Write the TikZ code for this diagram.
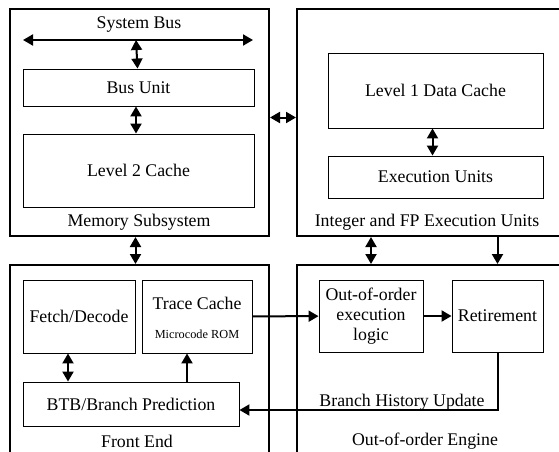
\documentclass[tikz,border=0pt]{standalone}
\usepackage{fontspec}
\setmainfont{Liberation Serif}
\usetikzlibrary{arrows.meta,positioning,calc}
\tikzset{
  outer/.style={draw, line width=2pt, inner sep=0pt},
  inner/.style={draw, line width=0.9pt, inner sep=0pt, font=\fontsize{17.8}{20}\selectfont, align=center},
  lbl/.style={font=\fontsize{17.8}{20}\selectfont, inner sep=1pt},
  flow/.style={line width=2pt, -{Triangle[length=10pt,width=11pt]}},
  both/.style={line width=2pt, {Triangle[length=10pt,width=11pt]}-{Triangle[length=10pt,width=11pt]}}
}
\begin{document}
\begin{tikzpicture}[x=1pt,y=-1pt]
              \useasboundingbox (0,0) rectangle (559,452);
              \clip (0,0) rectangle (559,452);
              \node[outer, minimum width=259pt, minimum height=227pt] at (139.5,122.5) (mem) {};
              \node[outer, minimum width=290pt, minimum height=227pt] at (442,122.5) (intfp) {};
              \node[outer, minimum width=259pt, minimum height=220pt] at (139.5,375) (front) {};
              \node[outer, minimum width=290pt, minimum height=220pt] at (442,375) (ooo) {};

              \node[lbl] at (139,25) (sysbus) {System Bus};
              \coordinate (busl) at (23,40);
              \coordinate (busr) at (253,40);
              \coordinate (busm) at (136,40);
              \node[inner, minimum width=231pt, minimum height=37pt] at (138.5,87.5) (bus) {Bus Unit};
              \node[inner, minimum width=231pt, minimum height=73pt] at (138.5,170.5) (ltwo) {Level 2 Cache};
              \node[lbl] at (139,222) (memlbl) {Memory Subsystem};

              \node[inner, minimum width=215pt, minimum height=75pt] at (435.5,90.5) (lone) {Level 1 Data Cache};
              \node[inner, minimum width=215pt, minimum height=42pt] at (435.5,177) (exu) {Execution Units};
              \node[lbl] at (427,222) (intlbl) {Integer and FP Execution Units};

              \node[inner, minimum width=112pt, minimum height=73pt] at (79,316.5) (fetch) {Fetch/Decode};
              \node[inner, minimum width=110pt, minimum height=73pt] at (197,316.5) (trace) {};
              \node[lbl] at (197,303) (tracetxt) {Trace Cache};
              \node[font=\fontsize{12.3}{14}\selectfont, inner sep=1pt] at (197,334) (ucode) {Microcode ROM};
              \node[inner, minimum width=216pt, minimum height=44pt] at (131,404) (btb) {BTB/Branch Prediction};
              \node[lbl] at (137,441) (frontlbl) {Front End};

              \node[inner, minimum width=104pt, minimum height=72pt] at (371,316) (exec) {Out-of-order\\execution\\logic};
              \node[inner, minimum width=91pt, minimum height=72pt] at (497.5,316) (retire) {Retirement};
              \node[lbl, anchor=south] at (402,412) (bhu) {Branch History Update};
              \node[lbl] at (425,441) (ooolbl) {Out-of-order Engine};

              \draw[both] (busl) -- (busr);
              \draw[both] (busm) -- (bus);
              \draw[both] ([xshift=-2.5pt]bus.south) -- ([xshift=-2.5pt]ltwo.north);
              \draw[both] ([yshift=5pt]mem.east) -- ([yshift=5pt]intfp.west);
              \draw[both] ([xshift=-3pt]lone.south) -- ([xshift=-3pt]exu.north);
              \draw[both] ([xshift=-4pt]mem.south) -- ([xshift=-4pt]front.north);
              \draw[both] (exec |- intfp.south) -- (exec |- ooo.north);
              \draw[flow] (retire |- intfp.south) -- (retire |- ooo.north);
              \draw[both] ([xshift=-11pt]fetch.south) -- ([xshift=-11pt]fetch.south |- btb.north);
              \draw[flow] ([xshift=-10pt]trace.south |- btb.north) -- ([xshift=-10pt]trace.south);
              \draw[flow] (trace) -- (exec);
              \draw[flow] (exec) -- (retire);
              \draw[flow] (retire.south) |- ([yshift=-6pt]btb.east);
            \end{tikzpicture}
\end{document}
